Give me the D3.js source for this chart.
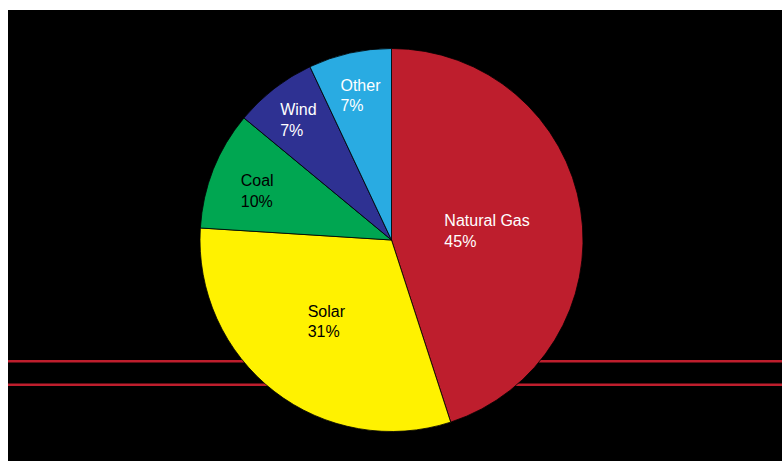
<!DOCTYPE html>
<html>
<head>
<meta charset="utf-8">
<script src="https://cdn.jsdelivr.net/npm/d3@7"></script>
<style>
  html, body { margin: 0; padding: 0; background: #ffffff; }
  svg { display: block; }
</style>
</head>
<body>
<svg id="chart" width="782" height="461"></svg>
<script>
// Electricity generation mix (percent of total)
const categories = ["Natural Gas", "Solar", "Coal", "Wind", "Other"];
const shares = [45, 31, 10, 7, 7];
const colors = ["#be1e2d", "#fff200", "#00a651", "#2e3192", "#29abe2"];
const labelColors = ["#ffffff", "#000000", "#000000", "#ffffff", "#ffffff"];

// Label placement: [angle shift in degrees, distance from centre]
const labelPolar = [[3.5, 96], [1, 104], [-1.5, 143], [0, 152], [0.5, 148]];

const width = 782, height = 461;
const cx = 391.5, cy = 240, radius = 191.5;

const svg = d3.select("#chart");

// Panel background
svg.append("rect")
  .attr("x", 8).attr("y", 10)
  .attr("width", width - 8).attr("height", height - 10)
  .attr("fill", "#000000");

// Horizontal rules behind the pie
[361.2, 384.7].forEach(y => {
  svg.append("line")
    .attr("x1", 8).attr("x2", width)
    .attr("y1", y).attr("y2", y)
    .attr("stroke", "#be1e2d")
    .attr("stroke-width", 2.4);
});

const pie = d3.pie().sort(null).value(d => d.value);
const arc = d3.arc().innerRadius(0).outerRadius(radius);

const data = categories.map((c, i) => ({ name: c, value: shares[i], i }));
const arcs = pie(data);

const g = svg.append("g").attr("transform", `translate(${cx},${cy})`);

g.selectAll("path.slice")
  .data(arcs)
  .join("path")
  .attr("class", "slice")
  .attr("d", arc)
  .attr("fill", d => colors[d.data.i])
  .attr("stroke", "#000000")
  .attr("stroke-width", 0.8)
  .attr("stroke-linejoin", "round");

// Two-line labels: name and percentage, left aligned within a block
arcs.forEach(d => {
  const i = d.data.i;
  const mid = (d.startAngle + d.endAngle) / 2 + labelPolar[i][0] * Math.PI / 180;
  const r = labelPolar[i][1];
  const px = Math.sin(mid) * r;
  const py = -Math.cos(mid) * r;

  const t = g.append("text")
    .attr("font-family", "'Liberation Sans', Arial, Helvetica, sans-serif")
    .attr("font-size", 16)
    .attr("fill", labelColors[i]);
  const l1 = t.append("tspan").text(d.data.name);
  const l2 = t.append("tspan").text(d3.format("d")(d.data.value) + "%");

  const w = Math.max(l1.node().getComputedTextLength(), l2.node().getComputedTextLength());
  const x0 = px - w / 2;
  // block spans cap top of first line to baseline of second line (~32px)
  const base1 = py - 16 + 11.5;
  l1.attr("x", x0).attr("y", base1);
  l2.attr("x", x0).attr("y", base1 + 20.5);
});
</script>
</body>
</html>
